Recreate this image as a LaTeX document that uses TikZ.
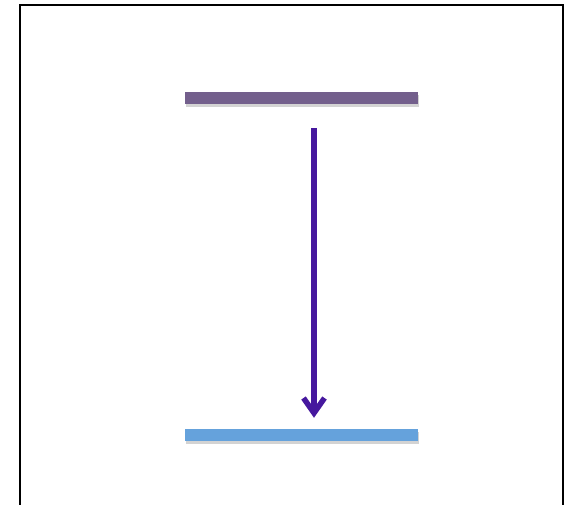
\documentclass[tikz,border=0pt]{standalone}
\usetikzlibrary{arrows.meta,positioning,shadows}
\definecolor{levelTop}{HTML}{735F8C}
\definecolor{levelLow}{HTML}{65A2DC}
\definecolor{transInk}{HTML}{46189E}
\begin{document}
\begin{tikzpicture}[x=1pt,y=-1pt,
level/.style={rectangle,minimum width=233pt,minimum height=12pt,inner sep=0pt,
  drop shadow={shadow xshift=1pt,shadow yshift=-3pt,opacity=.35}},
trans/.style={draw=transInk,line width=5.5pt,-{Straight Barb[length=15pt,width=21pt]}}]
\useasboundingbox (0,0) rectangle (567,504);
\draw[line width=2.5pt] (20,5) rectangle (563,515);
\node[level,fill=levelTop] (upper) at (301.5,98) {};
\node[level,fill=levelLow] (lower) at (301.5,435) {};
\coordinate (start) at (314,128);
\draw[trans] (start) -- ([yshift=11pt]start |- lower.north);
\end{tikzpicture}
\end{document}
